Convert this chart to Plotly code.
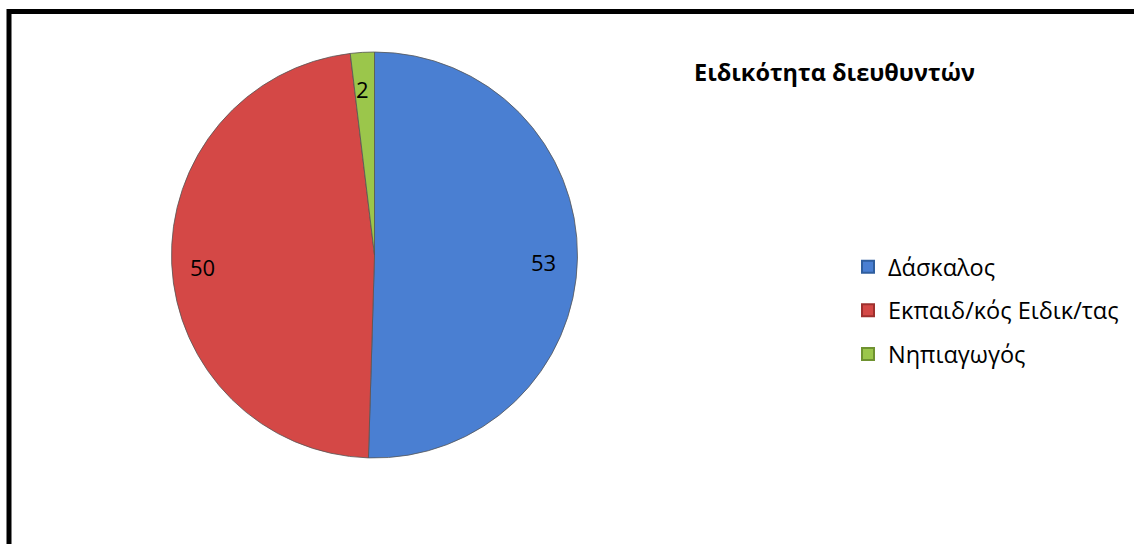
import math
import plotly.graph_objects as go

categories = ["Δάσκαλος", "Εκπαιδ/κός Ειδικ/τας", "Νηπιαγωγός"]
values = [53, 50, 2]
colors = ["#4A7FD2", "#D44846", "#9BC64B"]
line_colors = ["#2F5E9E", "#9E302E", "#6F9230"]
title_text = "Ειδικότητα διευθυντών"

W, H = 1134, 544
cx, cy, R = 374.5, 255.0, 203.0  # pie centre / radius in px
label_r = 0.84

fig = go.Figure()
fig.add_trace(go.Pie(
    labels=categories, values=values, sort=False, direction="clockwise", rotation=0,
    marker=dict(colors=colors, line=dict(color="#555555", width=0.8)),
    textinfo="none", hoverinfo="label+value", showlegend=False,
    domain=dict(x=[(cx - R) / W, (cx + R) / W], y=[1 - (cy + R) / H, 1 - (cy - R) / H]),
))

# legend entries via empty marker traces (for spacing control)
for c, col, lc in zip(categories, colors, line_colors):
    fig.add_trace(go.Scatter(
        x=[None], y=[None], mode="markers", name=c, legendgroup=c,
        marker=dict(symbol="square", size=11, color=col, line=dict(color=lc, width=1)),
    ))

# data labels computed from slice angles
total = sum(values)
cum = 0
for v in values:
    mid = (cum + v / 2) / total * 2 * math.pi
    cum += v
    px = cx + label_r * R * math.sin(mid) - 2
    py = cy - label_r * R * math.cos(mid) + 4
    fig.add_annotation(x=px / W, y=1 - py / H, xref="paper", yref="paper",
                       xanchor="center", yanchor="middle",
                       text=str(v), showarrow=False,
                       font=dict(family="Open Sans", size=22, color="#000000"))

fig.add_annotation(x=692 / W, y=1 - 72 / H, xref="paper", yref="paper",
                   xanchor="left", yanchor="middle", text="<b>" + title_text + "</b>",
                   showarrow=False, font=dict(family="Open Sans", size=23.5, color="#000000"))

# outer chart border (top and left visible)
fig.add_shape(type="line", xref="paper", yref="paper", x0=9 / W, x1=1.01, y0=1 - 11.5 / H, y1=1 - 11.5 / H,
              line=dict(color="#000000", width=5))
fig.add_shape(type="line", xref="paper", yref="paper", x0=9 / W, x1=9 / W, y0=1 - 9 / H, y1=-0.01,
              line=dict(color="#000000", width=5))

fig.update_layout(
    width=W, height=H, margin=dict(l=0, r=0, t=0, b=0),
    paper_bgcolor="white", plot_bgcolor="white",
    xaxis=dict(visible=False), yaxis=dict(visible=False),
    legend=dict(x=848 / W, y=1 - 245 / H, xanchor="left", yanchor="top",
                font=dict(family="Open Sans", size=23.5, color="#000000"),
                tracegroupgap=10, itemsizing="constant", bgcolor="rgba(0,0,0,0)"),
    showlegend=True,
)

fig.write_html("out.html")
